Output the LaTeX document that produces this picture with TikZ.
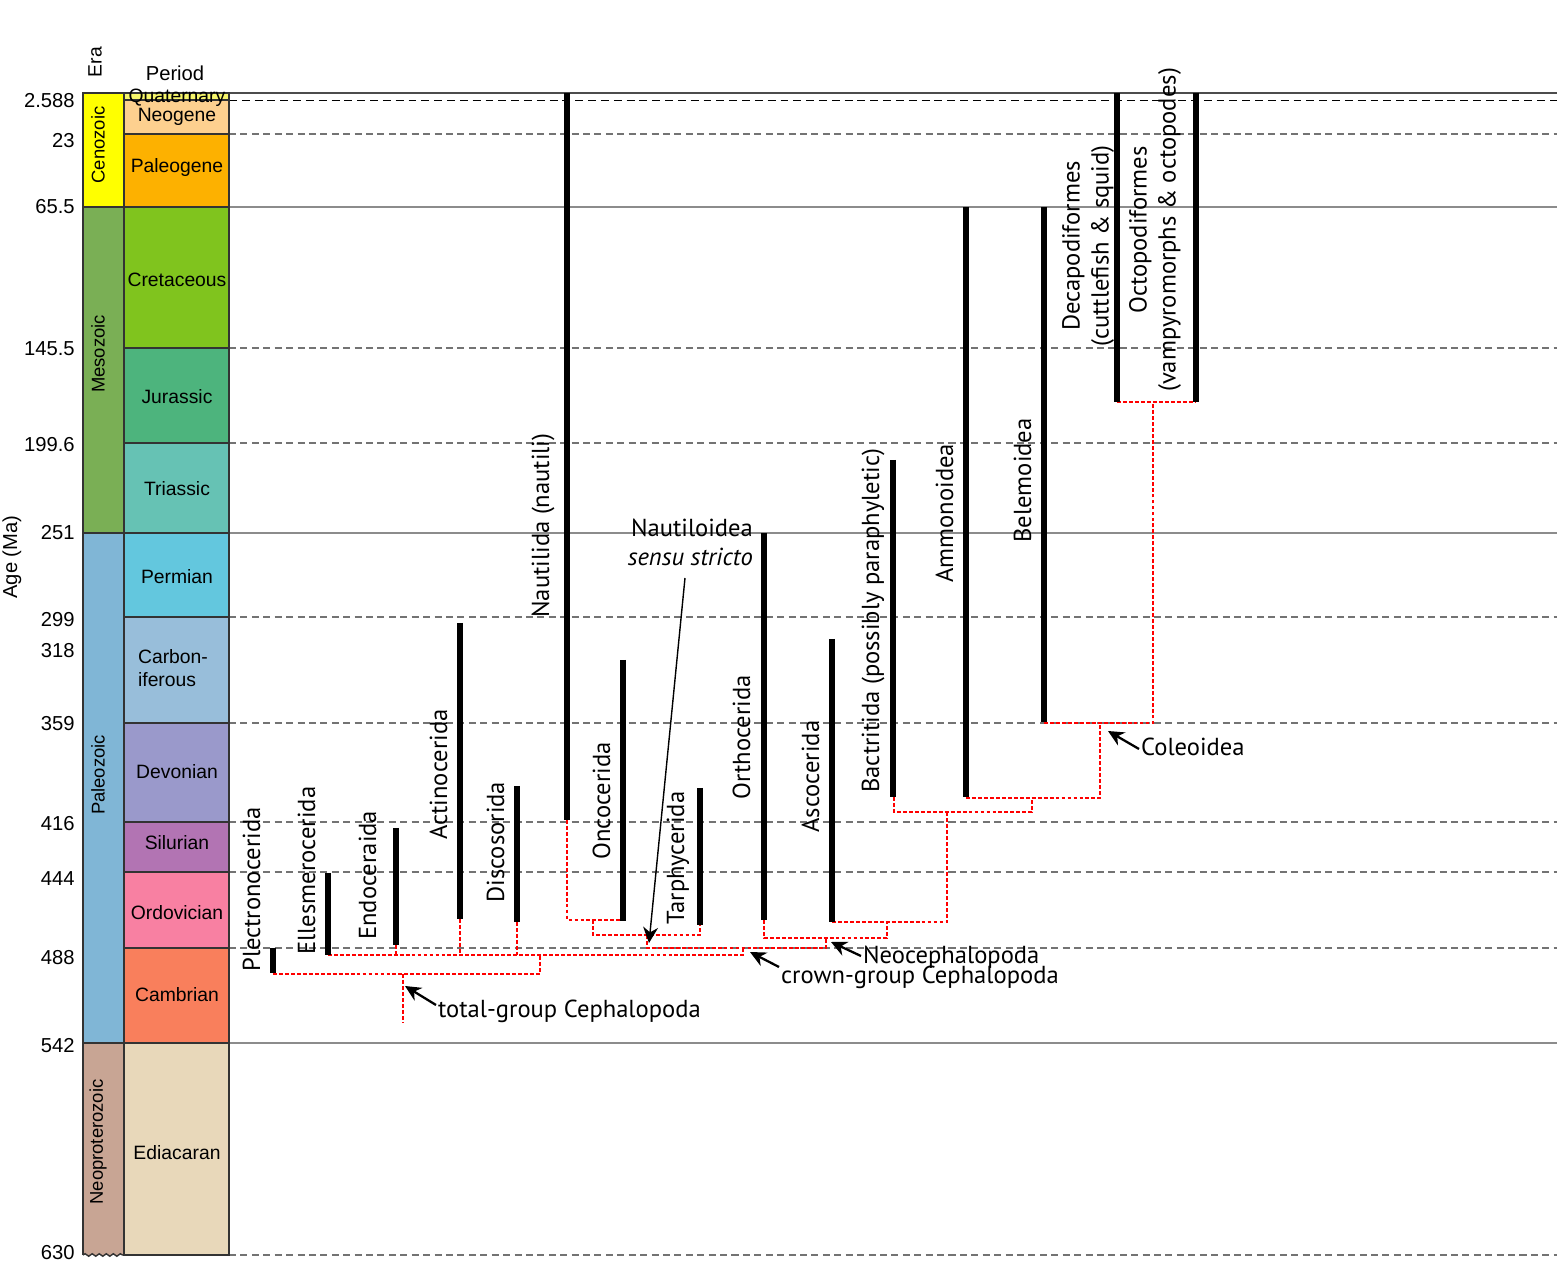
\documentclass[tikz,border=0pt]{standalone}
\usepackage{fontspec}
\setmainfont{Liberation Sans}
\newfontfamily\taxfont{PT Sans}
\usepackage{tikz}
\usetikzlibrary{arrows.meta}
\usetikzlibrary{decorations.pathmorphing}
\definecolor{cenoz}{HTML}{FFFF00}
\definecolor{mesoz}{HTML}{7AAF55}
\definecolor{paleoz}{HTML}{80B6D6}
\definecolor{neoprot}{HTML}{C8A594}
\definecolor{quat}{HTML}{F6F56B}
\definecolor{neog}{HTML}{FDD08F}
\definecolor{paleog}{HTML}{FDB100}
\definecolor{cret}{HTML}{80C41E}
\definecolor{jura}{HTML}{4DB47D}
\definecolor{trias}{HTML}{66C2B4}
\definecolor{perm}{HTML}{63C7DE}
\definecolor{carb}{HTML}{98BEDA}
\definecolor{devon}{HTML}{9A99CB}
\definecolor{silur}{HTML}{B274B3}
\definecolor{ordov}{HTML}{F880A2}
\definecolor{cambr}{HTML}{F97F5C}
\definecolor{ediac}{HTML}{E8D8BA}
\tikzset{
    unitbox/.style={
           draw=black!80,
           line width=1.1pt,
           },
}
\tikzset{
    rangebar/.style={
           black,
           line width=2.9pt,
           },
}
\tikzset{
    tree/.style={
           red,
           line width=0.75pt,
           dash pattern=on 2.2pt off 1.2pt,
           },
}
\tikzset{
    taxon/.style={
           rotate=90,
           anchor=base west,
           inner sep=0pt,
           font=\taxfont\fontsize{14}{16.5}\selectfont,
           },
}
\tikzset{
    note/.style={
           anchor=west,
           inner sep=1pt,
           font=\taxfont\fontsize{14}{16.5}\selectfont,
           },
}
\tikzset{
    pointer/.style={
           -{Stealth[length=9pt,width=8.5pt]},
           black,
           line width=1.3pt,
           },
}
\tikzset{
    agelabel/.style={
           anchor=east,
           inner sep=0pt,
           font=\fontsize{11.5}{13}\selectfont,
           },
}

\begin{document}
\begin{tikzpicture}[x=0.02cm,y=-0.02cm]
\useasboundingbox (0,0) rectangle (1560,1273);
% time lines
\draw[black!70, line width=0.6pt] (229,93) -- (1557,93);
\draw[black, line width=0.5pt, dash pattern=on 4.5pt off 2.8pt] (229,100) -- (1557,100);
\draw[black!55, line width=0.6pt, dash pattern=on 4pt off 2.5pt] (229,134) -- (1557,134);
\draw[black!45, line width=0.6pt] (229,207) -- (1557,207);
\draw[black!55, line width=0.6pt, dash pattern=on 4pt off 2.5pt] (229,348) -- (1557,348);
\draw[black!55, line width=0.6pt, dash pattern=on 4pt off 2.5pt] (229,443) -- (1557,443);
\draw[black!45, line width=0.6pt] (229,533) -- (1557,533);
\draw[black!55, line width=0.6pt, dash pattern=on 4pt off 2.5pt] (229,617) -- (1557,617);
\draw[black!55, line width=0.6pt, dash pattern=on 4pt off 2.5pt] (229,723) -- (1557,723);
\draw[black!55, line width=0.6pt, dash pattern=on 4pt off 2.5pt] (229,822) -- (1557,822);
\draw[black!55, line width=0.6pt, dash pattern=on 4pt off 2.5pt] (229,872) -- (1557,872);
\draw[black!55, line width=0.6pt, dash pattern=on 4pt off 2.5pt] (229,948) -- (1557,948);
\draw[black!45, line width=0.6pt] (229,1043) -- (1557,1043);
\draw[black!55, line width=0.6pt, dash pattern=on 4pt off 2.5pt] (229,1255) -- (1557,1255);

% eras
\filldraw[unitbox, fill=cenoz] (83,93) rectangle (124,207);
\filldraw[unitbox, fill=mesoz] (83,207) rectangle (124,533);
\filldraw[unitbox, fill=paleoz] (83,533) rectangle (124,1043);
\fill[neoprot] (83,1043) rectangle (124,1255);
\draw[unitbox] (83,1255) -- (83,1043) -- (124,1043) -- (124,1255);
\draw[unitbox, line width=0.8pt, decorate, decoration={snake, amplitude=0.7pt, segment length=4pt}] (83,1255) -- (124,1255);
\node[rotate=90, font=\fontsize{10.5}{12}\selectfont] (cenozoic) at (98,145) {Cenozoic};
\node[rotate=90, font=\fontsize{10.5}{12}\selectfont] (mesozoic) at (98,354) {Mesozoic};
\node[rotate=90, font=\fontsize{10.5}{12}\selectfont] (paleozoic) at (98,775) {Paleozoic};
\node[rotate=90, font=\fontsize{10.5}{12}\selectfont] (neoproterozoic) at (98,1142) {Neoproterozoic};

% periods
\filldraw[unitbox, fill=quat] (124,93) rectangle (229,100);
\filldraw[unitbox, fill=neog] (124,100) rectangle (229,134);
\filldraw[unitbox, fill=paleog] (124,134) rectangle (229,207);
\filldraw[unitbox, fill=cret] (124,207) rectangle (229,348);
\filldraw[unitbox, fill=jura] (124,348) rectangle (229,443);
\filldraw[unitbox, fill=trias] (124,443) rectangle (229,533);
\filldraw[unitbox, fill=perm] (124,533) rectangle (229,617);
\filldraw[unitbox, fill=carb] (124,617) rectangle (229,723);
\filldraw[unitbox, fill=devon] (124,723) rectangle (229,822);
\filldraw[unitbox, fill=silur] (124,822) rectangle (229,872);
\filldraw[unitbox, fill=ordov] (124,872) rectangle (229,948);
\filldraw[unitbox, fill=cambr] (124,948) rectangle (229,1043);
\filldraw[unitbox, fill=ediac] (124,1043) rectangle (229,1255);
\node[font=\fontsize{11}{12}\selectfont] (quaternary) at (177,98) {Quaternary};
\node[font=\fontsize{11}{12}\selectfont] (neogene) at (177,117) {Neogene};
\node[font=\fontsize{11}{12}\selectfont] (paleogene) at (177,168) {Paleogene};
\node[font=\fontsize{11}{12}\selectfont] (cretaceous) at (177,280) {Cretaceous};
\node[font=\fontsize{11}{12}\selectfont] (jurassic) at (177,397) {Jurassic};
\node[font=\fontsize{11}{12}\selectfont] (triassic) at (177,489) {Triassic};
\node[font=\fontsize{11}{12}\selectfont] (permian) at (177,577) {Permian};
\node[font=\fontsize{11}{13}\selectfont, align=left] (carboniferous) at (173,668) {Carbon-\\iferous};
\node[font=\fontsize{11}{12}\selectfont] (devonian) at (177,772) {Devonian};
\node[font=\fontsize{11}{12}\selectfont] (silurian) at (177,843) {Silurian};
\node[font=\fontsize{11}{12}\selectfont] (ordovician) at (177,913) {Ordovician};
\node[font=\fontsize{11}{12}\selectfont] (cambrian) at (177,995) {Cambrian};
\node[font=\fontsize{11}{12}\selectfont] (ediacaran) at (177,1153) {Ediacaran};

% headings and ages
\node[rotate=90, font=\fontsize{11}{12}\selectfont] (era) at (95,62) {Era};
\node[font=\fontsize{11.5}{12}\selectfont] (period) at (175,73) {Period};
\node[rotate=90, font=\fontsize{11.5}{12}\selectfont] (age) at (12,557) {Age (Ma)};
\node[agelabel] (a1) at (75,101) {2.588};
\node[agelabel] (a2) at (75,141) {23};
\node[agelabel] (a3) at (75,207) {65.5};
\node[agelabel] (a4) at (75,349) {145.5};
\node[agelabel] (a5) at (75,445) {199.6};
\node[agelabel] (a6) at (75,533) {251};
\node[agelabel] (a7) at (75,620) {299};
\node[agelabel] (a8) at (75,651) {318};
\node[agelabel] (a9) at (75,724) {359};
\node[agelabel] (a10) at (75,824) {416};
\node[agelabel] (a11) at (75,879) {444};
\node[agelabel] (a12) at (75,958) {488};
\node[agelabel] (a13) at (75,1046) {542};
\node[agelabel] (a14) at (75,1253) {630};

% tree
\draw[tree] (273,974) -- (540,974) -- (540,955);
\draw[tree] (328,955) -- (743,955) -- (743,948);
\draw[tree] (396,945) -- (396,955);
\draw[tree] (460,919) -- (460,955);
\draw[tree] (517,922) -- (517,955);
\draw[tree] (403,974) -- (403,1022);
\draw[tree] (567,820) -- (567,920) -- (623,920);
\draw[tree] (593,920) -- (593,935) -- (700,935) -- (700,925);
\draw[tree] (647,935) -- (647,948) -- (826,948) -- (826,938);
\draw[tree] (764,920) -- (764,938) -- (887,938) -- (887,922);
\draw[tree] (832,922) -- (947,922) -- (947,812);
\draw[tree] (894,797) -- (894,812) -- (1032,812) -- (1032,798);
\draw[tree] (966,798) -- (1100,798) -- (1100,723);
\draw[tree] (1044,723) -- (1153,723) -- (1153,402);
\draw[tree] (1117,402) -- (1196,402);

% ranges
\draw[rangebar] (273,948) -- (273,973);
\draw[rangebar] (328,873) -- (328,955);
\draw[rangebar] (396,828) -- (396,945);
\draw[rangebar] (460,623) -- (460,919);
\draw[rangebar] (517,786) -- (517,922);
\draw[rangebar] (567,93) -- (567,820);
\draw[rangebar] (623,660) -- (623,921);
\draw[rangebar] (700,788) -- (700,925);
\draw[rangebar] (764,533) -- (764,920);
\draw[rangebar] (832,639) -- (832,922);
\draw[rangebar] (893,460) -- (893,797);
\draw[rangebar] (966,207) -- (966,797);
\draw[rangebar] (1044,207) -- (1044,722);
\draw[rangebar] (1117,93) -- (1117,402);
\draw[rangebar] (1196,93) -- (1196,402);

% taxa
\node[taxon] (plectro) at (260,972) {Plectronocerida};
\node[taxon] (ellesm) at (315,955) {Ellesmerocerida};
\node[taxon] (endoc) at (376,940) {Endoceraida};
\node[taxon] (actino) at (447,840) {Actinocerida};
\node[taxon] (discos) at (504,903) {Discosorida};
\node[taxon] (nautil) at (549,618) {Nautilida (nautili)};
\node[taxon] (oncoc) at (610,860) {Oncocerida};
\node[taxon] (tarph) at (684,925) {Tarphycerida};
\node[taxon] (orthoc) at (750,800) {Orthocerida};
\node[taxon] (ascoc) at (819,833) {Ascocerida};
\node[taxon] (bactr) at (879,793) {Bactritida (possibly paraphyletic)};
\node[taxon] (ammon) at (953,583) {Ammonoidea};
\node[taxon] (belem) at (1031,543) {Belemoidea};
\node[taxon, anchor=center, align=center] (decapo) at (1088,246) {Decapodiformes\\(cuttlefish \& squid)};
\node[taxon, anchor=center, align=center] (octopo) at (1155,230) {Octopodiformes\\(vampyromorphs \& octopodes)};

% clade names
\node[note, anchor=east, align=right] (nautss) at (755,542) {Nautiloidea\\\itshape sensu stricto};
\node[note] (coleo) at (1139,747) {Coleoidea};
\node[note] (neoceph) at (861,957) {Neocephalopoda};
\node[note] (crown) at (779,977) {crown-group Cephalopoda};
\node[note] (total) at (436,1011) {total-group Cephalopoda};
\coordinate (coleotip) at (1108,731);
\coordinate (neocephtip) at (831,942);
\coordinate (crowntip) at (750,952);
\coordinate (totaltip) at (405,986);
\coordinate (nautsstip) at (649,943);
\draw[pointer] (coleo.west) ++(0,2) -- (coleotip);
\draw[pointer] (neoceph.west) ++(0,-1) -- (neocephtip);
\draw[pointer] (crown.west) ++(0,-10) -- (crowntip);
\draw[pointer] (total.west) ++(0,-6) -- (totaltip);
\draw[pointer, line width=0.8pt] (685,578) -- (nautsstip);
\end{tikzpicture}
\end{document}
